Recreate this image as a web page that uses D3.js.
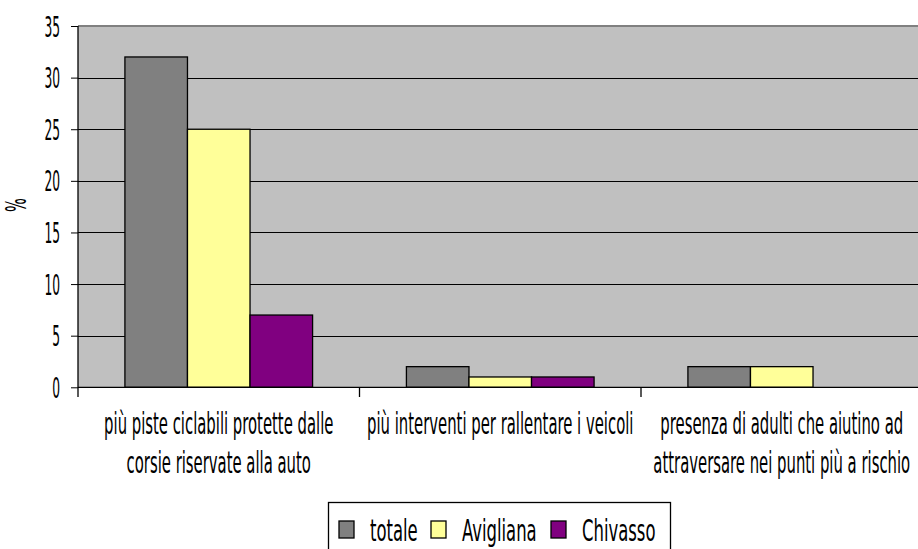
<!DOCTYPE html>
<html><head><meta charset="utf-8">
<script src="https://cdn.jsdelivr.net/npm/d3@7/dist/d3.min.js"></script>
<style>
html,body{margin:0;padding:0;background:#fff;overflow:hidden}
svg{display:block}
text{font-family:"DejaVu Sans Condensed","Liberation Sans Narrow",sans-serif;fill:#000}
</style></head>
<body>
<svg id="chart" width="918" height="549"></svg>
<script>
const categories = [
  ["più piste ciclabili protette dalle", "corsie riservate alla auto"],
  ["più interventi per rallentare i veicoli"],
  ["presenza di adulti che aiutino ad", "attraversare nei punti più a rischio"]
];
const seriesNames = ["totale", "Avigliana", "Chivasso"];
const totale    = [32, 2, 2];
const avigliana = [25, 1, 2];
const chivasso  = [7, 1, 0];
const yTicks = [0, 5, 10, 15, 20, 25, 30, 35];
const colors = ["#808080", "#FFFF99", "#800080"];

const seriesValues = [totale, avigliana, chivasso];
const svg = d3.select("#chart");

function condText(g, x, y, str, size, anchor, sx, extraTransform) {
  const grp = g.append("g").attr("transform", `translate(${x},${y})` + (extraTransform || "") + ` scale(${sx},1)`);
  grp.append("text").attr("font-size", size).attr("text-anchor", anchor || "start").text(str);
  return grp;
}

const pLeft = 78, pRight = 922.5, pTop = 26, pBottom = 387.3;
const y = d3.scaleLinear().domain([0, 35]).range([pBottom, pTop]);
const catIdx = categories.map((c, i) => i);
const x = d3.scaleBand().domain(catIdx).range([pLeft, pRight]).paddingInner(0).paddingOuter(0);
const xs = d3.scaleBand().domain(seriesNames).range([0, x.bandwidth()]).paddingInner(0).paddingOuter(0.75);

// plot background
svg.append("rect").attr("x", pLeft).attr("y", pTop).attr("width", pRight - pLeft).attr("height", pBottom - pTop).attr("fill", "#C0C0C0");
// gridlines
svg.append("g").selectAll("line").data(yTicks.filter(t => t > 0 && t < 35)).join("line")
  .attr("x1", pLeft).attr("x2", pRight).attr("y1", d => Math.round(y(d)) + 0.5).attr("y2", d => Math.round(y(d)) + 0.5)
  .attr("stroke", "#000").attr("stroke-width", 1);
// top border
svg.append("line").attr("x1", pLeft).attr("x2", pRight).attr("y1", pTop).attr("y2", pTop).attr("stroke", "#808080").attr("stroke-width", 2);

// bars
const groups = svg.append("g").selectAll("g").data(catIdx).join("g").attr("transform", d => `translate(${x(d)},0)`);
groups.selectAll("rect").data(i => seriesNames.map((s, k) => ({s, k, v: seriesValues[k][i]})).filter(d => d.v > 0)).join("rect")
  .attr("x", d => xs(d.s)).attr("width", xs.bandwidth())
  .attr("y", d => y(d.v)).attr("height", d => y(0) - y(d.v))
  .attr("fill", d => colors[d.k]).attr("stroke", "#000").attr("stroke-width", 1.3);

// y axis
const yAxis = d3.axisLeft(y).tickValues(yTicks).tickSize(7).tickPadding(11).tickFormat(d3.format("d"));
const ya = svg.append("g").attr("transform", `translate(${pLeft},0)`).call(yAxis);
ya.select(".domain").remove();
ya.selectAll(".tick line").attr("stroke", "#000");
ya.selectAll(".tick text").each(function(d) {
  const t = d3.select(this);
  const gx = +t.attr("x");
  t.attr("x", null).attr("dy", null).attr("font-size", 29).attr("font-family", null).attr("text-anchor", "end")
   .attr("transform", `translate(${gx},10) scale(0.47,1)`);
});
svg.append("line").attr("x1", pLeft).attr("x2", pLeft).attr("y1", pTop).attr("y2", 397).attr("stroke", "#000").attr("stroke-width", 1.3);
// x axis line
svg.append("line").attr("x1", pLeft).attr("x2", pRight).attr("y1", pBottom).attr("y2", pBottom).attr("stroke", "#000").attr("stroke-width", 1.3);
// category boundary ticks
svg.append("g").selectAll("line").data(catIdx.slice(1)).join("line")
  .attr("x1", d => x(d)).attr("x2", d => x(d)).attr("y1", pBottom).attr("y2", 397).attr("stroke", "#000").attr("stroke-width", 1.3);

// category labels
catIdx.forEach(i => {
  const cx = x(i) + x.bandwidth() / 2;
  categories[i].forEach((line, j) => {
    condText(svg, cx, 434 + j * 38.5, line, 30, "middle", 0.55);
  });
});

// y title
condText(svg, 26, 205, "%", 28, "middle", 0.58, " rotate(-90)");

// legend
const lg = svg.append("g");
lg.append("rect").attr("x", 328.5).attr("y", 502.5).attr("width", 342).attr("height", 60).attr("fill", "#fff").attr("stroke", "#000").attr("stroke-width", 1.3);
const legX = [339, 431, 551];
seriesNames.forEach((s, k) => {
  lg.append("rect").attr("x", legX[k]).attr("y", 521).attr("width", 15).attr("height", 17)
    .attr("fill", colors[k]).attr("stroke", "#000").attr("stroke-width", 1.3);
  condText(lg, legX[k] + 31, 541, s, 31, "start", 0.59);
});
</script>
</body></html>
